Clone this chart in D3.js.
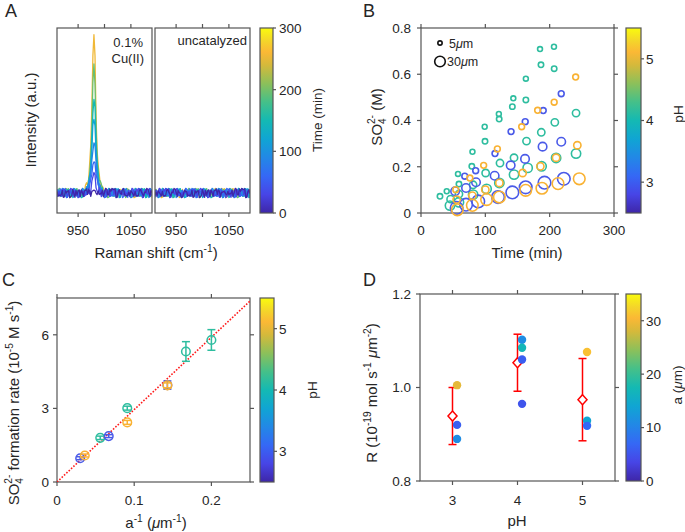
<!DOCTYPE html>
<html><head><meta charset="utf-8">
<script src="https://cdn.jsdelivr.net/npm/d3@7/dist/d3.min.js"></script>
<style>
body{margin:0;background:#fff;}
svg{display:block;}
text{font-family:"Liberation Sans",Arial,Helvetica,sans-serif;fill:#262626;}
</style></head><body>
<svg id="fig" width="685" height="532"></svg>
<script>
// ================= DATA =================
// Panel A : Raman spectra
const ramanGrid = d3.range(910, 1091, 2);
const ramanTicks = [950, 1000, 1050];
const ramanTickLabels = [950, 1050];
const spectraTimes = [0, 30, 60, 90, 120, 150, 195, 255];
const peakHeights = [0.01, 0.12, 0.22, 0.35, 0.50, 0.63, 0.81, 1.00];
const peakCenter = 980;
const peakOffsets = [-16,-14,-12,-10,-8,-6,-4,-2,0,2,4,6,8,10,12,14,16];
const peakShape   = [0.02,0.04,0.06,0.10,0.17,0.30,0.52,0.86,1.00,0.86,0.52,0.30,0.17,0.10,0.06,0.04,0.02];
const noise = [0.31,-0.52,0.84,-0.18,-0.93,0.42,0.07,-0.61,0.73,-0.27,0.55,-0.82,0.16,0.91,-0.44,-0.09,0.62,-0.71,0.28,-0.22,0.79,-0.48,-0.88,0.37,0.02,0.69,-0.63,0.21,-0.35,0.51,-0.77,0.95,-0.12,0.33,-0.68,0.58,-0.41,0.13,0.81,-0.24,-0.57,0.46,-0.86,0.49,0.19,-0.31,0.74,-0.53,0.08,-0.79,0.64,0.27,-0.39,0.89,-0.62,-0.06,0.43,-0.73,0.24,0.83,-0.29,0.52,-0.94,0.04,0.61,-0.17,0.36,-0.49,0.71,-0.84,0.39,0.11,-0.42,0.92,-0.58,0.23,-0.13,0.47,-0.66,0.34,0.78,-0.51,-0.21,0.57,-0.91,0.44,-0.33,0.68,0.14,-0.59,0.26,-0.75,0.53,-0.08,0.87,-0.46,0.18];
const timeTicks = [0, 100, 200, 300];

// Panel B : sulfate vs time (per droplet: pH, radius a)
const t_p4_a5  = [40,57.5,80,99,121,143.5,163,185,206.7];
const c_p4_a5  = [0.094,0.169,0.265,0.373,0.428,0.496,0.581,0.709,0.719];
const t_p4_a6  = [29.5,59,79,99.5,121.5,142,163,186.5,207];
const c_p4_a6  = [0.072,0.125,0.202,0.310,0.406,0.460,0.489,0.641,0.624];
const t_p4_a11 = [46,59,81,100.5,122.8,144.6,164,187,208,241];
const c_p4_a11 = [0.060,0.082,0.122,0.173,0.216,0.239,0.311,0.349,0.392,0.432];
const t_p4_a18 = [45,59,81,102,121.8,144.6,165.8,187.5,210,241];
const c_p4_a18 = [0.032,0.046,0.079,0.104,0.130,0.166,0.195,0.202,0.238,0.257];
const t_p3_a7  = [68,85,115,140,162,190,218];
const c_p3_a7  = [0.159,0.183,0.257,0.352,0.395,0.443,0.516];
const t_p3_a15 = [53,70,85.5,114.5,139.4,161.7,189,218];
const c_p3_a15 = [0.094,0.108,0.133,0.161,0.206,0.234,0.287,0.308];
const t_p3_a33 = [55.4,70,89,119.7,142,162.7,192,222];
const c_p3_a33 = [0.022,0.036,0.050,0.069,0.089,0.111,0.131,0.148];
const t_p5_a7  = [54,76,97.4,118.7,156.5,181.3,207,240.4];
const c_p5_a7  = [0.101,0.151,0.206,0.277,0.373,0.444,0.479,0.588];
const t_p5_a11 = [55.4,79.8,100,121.8,158,185.5,210,243];
const c_p5_a11 = [0.058,0.075,0.101,0.130,0.173,0.202,0.239,0.293];
const t_p5_a28 = [56.5,79.8,102,121.8,162.7,188,213,246];
const c_p5_a28 = [0.014,0.033,0.058,0.069,0.098,0.107,0.127,0.148];
const legendSizes = [5, 30];
const timeAxisTicks = [0, 100, 200, 300];
const concTicks = [0, 0.2, 0.4, 0.6, 0.8];
const pHTicks = [3, 4, 5];

// Panel C : formation rate vs 1/a
const cInvA = [0.030, 0.036, 0.056, 0.067, 0.091, 0.091, 0.143, 0.143, 0.167, 0.200];
const cRate = [0.97, 1.08, 1.80, 1.87, 3.01, 2.43, 3.95, 3.94, 5.32, 5.79];
const cErr  = [0.06, 0.06, 0.07, 0.06, 0.08, 0.08, 0.17, 0.10, 0.40, 0.42];
const cPH   = [3, 5, 4, 3, 4, 5, 3, 5, 4, 4];
const fitSlope = 29.5;
const invATicks = [0, 0.1, 0.2];
const rateTicks = [0, 3, 6];

// Panel D : R vs pH
const dPH   = [3, 4, 5];
const dMean = [0.939, 1.053, 0.974];
const dSD   = [0.061, 0.061, 0.088];
const dropPH = [3, 3, 3, 4, 4, 4, 4, 5, 5, 5];
const dropR  = [1.005, 0.920, 0.890, 1.102, 1.085, 1.060, 0.965, 1.076, 0.929, 0.918];
const dropA  = [29, 6, 11, 11, 17, 6, 5, 31, 14, 7];
const dXTicks = [3, 4, 5];
const dYTicks = [0.8, 1.0, 1.2];
const aTicks = [0, 10, 20, 30];

// ================= STYLE =================
const AX = "#555555";
const parulaPos = [0, 0.1, 0.2, 0.3, 0.4, 0.5, 0.6, 0.7, 0.8, 0.87, 0.93, 1];
const parulaCol = ["#3e26a8","#4745e6","#3568f5","#2288e6","#10a5d3","#14b9b3","#45c089","#8cc05a","#d5b93b","#fbb835","#f4d52a","#f9fb0e"];
const parula = d3.scaleLinear().domain(parulaPos).range(parulaCol).interpolate(d3.interpolateRgb).clamp(true);
const phColor = {3: "#4a5ae8", 4: "#2ebd9f", 5: "#f9b233"};
const svg = d3.select("#fig");
const defs = svg.append("defs");

function boxAxes(x, y, o) {
  const [x0, x1] = x.range(), [yb, yt] = y.range();
  const g = svg.append("g");
  g.append("rect").attr("x", x0).attr("y", yt).attr("width", x1 - x0).attr("height", yb - yt)
    .attr("fill", "none").attr("stroke", AX).attr("stroke-width", 1.2);
  (o.xTicks || []).forEach(t => {
    const px = x(t);
    g.append("line").attr("x1", px).attr("x2", px).attr("y1", yb).attr("y2", yb + 4).attr("stroke", AX).attr("stroke-width", 1.2);
    g.append("line").attr("x1", px).attr("x2", px).attr("y1", yt).attr("y2", yt - 4).attr("stroke", AX).attr("stroke-width", 1.2);
    if (!o.xLabelSet || o.xLabelSet.includes(t))
      g.append("text").attr("x", px).attr("y", o.xLabelY).attr("text-anchor", "middle").attr("font-size", 13.5)
        .text(o.xFmt ? o.xFmt(t) : t);
  });
  (o.yTicks || []).forEach(t => {
    const py = y(t);
    g.append("line").attr("x1", x0).attr("x2", x0 - 4).attr("y1", py).attr("y2", py).attr("stroke", AX).attr("stroke-width", 1.2);
    g.append("line").attr("x1", x1).attr("x2", x1 + 4).attr("y1", py).attr("y2", py).attr("stroke", AX).attr("stroke-width", 1.2);
    g.append("text").attr("x", x0 - o.yGap).attr("y", py).attr("dy", "0.36em").attr("text-anchor", "end").attr("font-size", 13.5)
      .text(o.yFmt ? o.yFmt(t) : t);
  });
}

let gradN = 0;
function colorbar(x0, y0, w, h, domain, ticks, labelX, label, labelPos) {
  const id = "grad" + (gradN++);
  const lg = defs.append("linearGradient").attr("id", id).attr("x1", 0).attr("y1", 1).attr("x2", 0).attr("y2", 0);
  parulaPos.forEach((p, i) => lg.append("stop").attr("offset", p).attr("stop-color", parulaCol[i]));
  svg.append("rect").attr("x", x0).attr("y", y0).attr("width", w).attr("height", h).attr("fill", `url(#${id})`)
    .attr("stroke", AX).attr("stroke-width", 1.2);
  const s = d3.scaleLinear().domain(domain).range([y0 + h, y0]);
  ticks.forEach(t => {
    svg.append("line").attr("x1", x0 + w).attr("x2", x0 + w + 3).attr("y1", s(t)).attr("y2", s(t)).attr("stroke", AX).attr("stroke-width", 1.2);
    svg.append("text").attr("x", labelX).attr("y", s(t)).attr("dy", "0.36em").attr("font-size", 13.5).text(t);
  });
  const tx = svg.append("text").attr("transform", `translate(${labelPos[0]},${labelPos[1]}) rotate(-90)`)
    .attr("text-anchor", "middle").attr("font-size", 13.5);
  rich(tx, label, 13.5);
}

function rich(sel, parts, size) {
  parts.forEach(p => {
    const ts = sel.append("tspan").text(p.t);
    if (p.s) ts.attr("font-size", size * 0.68);
    if (p.it) ts.attr("font-style", "italic");
    if (p.dx != null) ts.attr("dx", p.dx);
    if (p.dy != null) ts.attr("dy", p.dy);
  });
}
function label(x, y, rot, parts, size) {
  const t = svg.append("text").attr("text-anchor", "middle").attr("font-size", size)
    .attr("transform", `translate(${x},${y})` + (rot ? " rotate(-90)" : ""));
  rich(t, parts, size);
  return t;
}
function panelLetter(x, y, s) {
  svg.append("text").attr("x", x).attr("y", y).attr("font-size", 18).text(s);
}

// ================= PANEL A =================
const xA1 = d3.scaleLinear().domain([910, 1090]).range([57, 152]);
const xA2 = d3.scaleLinear().domain([910, 1090]).range([155, 250]);
const yA  = d3.scaleLinear().domain([-0.129, 1.065]).range([213, 28]);
const tColor = d3.scaleLinear().domain([0, 300]).range([0, 1]);

function spectrum(height, seed) {
  return ramanGrid.map((x, i) => {
    const j = peakOffsets.indexOf(x - peakCenter);
    const p = j >= 0 ? peakShape[j] : 0;
    const nz = noise[(i * 7 + seed * 19) % noise.length];
    return [x, height * p + 0.032 * nz];
  });
}
[[xA1, true], [xA2, false]].forEach(([xs, peaks], pi) => {
  const cid = "clipA" + pi;
  defs.append("clipPath").attr("id", cid).append("rect")
    .attr("x", xs.range()[0]).attr("y", 28).attr("width", xs.range()[1] - xs.range()[0]).attr("height", 185);
  const g = svg.append("g").attr("clip-path", `url(#${cid})`);
  const line = d3.line().x(d => xs(d[0])).y(d => yA(d[1]));
  for (let k = spectraTimes.length - 1; k >= 0; k--) {
    const data = spectrum(peaks ? peakHeights[k] : 0, k + (peaks ? 0 : 40));
    g.append("path").attr("d", line(data)).attr("fill", "none")
      .attr("stroke", parula(tColor(spectraTimes[k]))).attr("stroke-width", 1.3).attr("stroke-linejoin", "round");
  }
  boxAxes(xs, yA, {xTicks: ramanTicks, xLabelSet: ramanTickLabels, xLabelY: 235});
});
svg.append("text").attr("x", 143).attr("y", 47).attr("text-anchor", "end").attr("font-size", 13).text("0.1%");
svg.append("text").attr("x", 144).attr("y", 63).attr("text-anchor", "end").attr("font-size", 13).text("Cu(II)");
svg.append("text").attr("x", 247).attr("y", 45).attr("text-anchor", "end").attr("font-size", 13).text("uncatalyzed");
label(156, 258, false, [{t: "Raman shift (cm"}, {t: "-1", s: 1, dy: -6}, {t: ")", dy: 6}], 15);
label(36, 120, true, [{t: "Intensity (a.u.)"}], 15);
colorbar(260, 28, 13, 185, [0, 300], timeTicks, 279, [{t: "Time (min)"}], [322, 120]);
panelLetter(5, 17, "A");

// ================= PANEL B =================
const xB = d3.scaleLinear().domain([0, 300]).range([421, 614]);
const yB = d3.scaleLinear().domain([0, 0.8]).range([213, 28]);
const rB = d3.scaleSqrt().domain([0, 35]).range([0, 6.5]);
const bSeries = [
  {pH: 4, a: 18, t: t_p4_a18, c: c_p4_a18},
  {pH: 4, a: 11, t: t_p4_a11, c: c_p4_a11},
  {pH: 4, a: 6,  t: t_p4_a6,  c: c_p4_a6},
  {pH: 4, a: 5,  t: t_p4_a5,  c: c_p4_a5},
  {pH: 3, a: 33, t: t_p3_a33, c: c_p3_a33},
  {pH: 3, a: 15, t: t_p3_a15, c: c_p3_a15},
  {pH: 3, a: 7,  t: t_p3_a7,  c: c_p3_a7},
  {pH: 5, a: 28, t: t_p5_a28, c: c_p5_a28},
  {pH: 5, a: 11, t: t_p5_a11, c: c_p5_a11},
  {pH: 5, a: 7,  t: t_p5_a7,  c: c_p5_a7}
];
boxAxes(xB, yB, {xTicks: timeAxisTicks, xLabelY: 235, yTicks: concTicks, yGap: 10, yFmt: d => d === 0 ? "0" : d3.format(".1f")(d)});
bSeries.forEach(s => {
  s.t.forEach((tt, i) => {
    svg.append("circle").attr("cx", xB(tt)).attr("cy", yB(s.c[i])).attr("r", rB(s.a))
      .attr("fill", "none").attr("stroke", phColor[s.pH]).attr("stroke-width", 1.6);
  });
});
// size legend
[[legendSizes[0], 440, 43, 449, 47.5], [legendSizes[1], 440, 61.5, 447, 66]].forEach(([a, cx, cy, tx, ty]) => {
  svg.append("circle").attr("cx", cx).attr("cy", cy).attr("r", rB(a) * 0.88).attr("fill", "none").attr("stroke", "#111").attr("stroke-width", 1.6);
  const t = svg.append("text").attr("x", tx).attr("y", ty).attr("font-size", 12.5);
  rich(t, [{t: String(a)}, {t: "μ", it: 1}, {t: "m"}], 12.5);
});
label(527, 258, false, [{t: "Time (min)"}], 15);
label(382, 117, true, [{t: "SO"}, {t: "4", s: 1, dy: 4}, {t: "2-", s: 1, dx: -5.8, dy: -11}, {t: " (M)", dy: 7}], 15);
colorbar(626, 28, 15, 185, [2.5, 5.5], pHTicks, 646, [{t: "pH"}], [683, 114]);
panelLetter(363, 17, "B");

// ================= PANEL C =================
const xC = d3.scaleLinear().domain([0, 0.25]).range([57, 250]);
const yC = d3.scaleLinear().domain([0, 7.5]).range([482, 298]);
boxAxes(xC, yC, {xTicks: invATicks, xLabelY: 505, yTicks: rateTicks, yGap: 8});
defs.append("clipPath").attr("id", "clipC").append("rect").attr("x", 57).attr("y", 298).attr("width", 193).attr("height", 184);
svg.append("line").attr("clip-path", "url(#clipC)")
  .attr("x1", xC(0)).attr("y1", yC(0)).attr("x2", xC(0.25)).attr("y2", yC(fitSlope * 0.25))
  .attr("stroke", "#ff1a1a").attr("stroke-width", 1.6).attr("stroke-dasharray", "1.6,1.6");
cInvA.forEach((x, i) => {
  const col = phColor[cPH[i]], px = xC(x);
  const g = svg.append("g").attr("stroke", col).attr("stroke-width", 1.5).attr("fill", "none");
  g.append("line").attr("x1", px).attr("x2", px).attr("y1", yC(cRate[i] - cErr[i])).attr("y2", yC(cRate[i] + cErr[i]));
  [cRate[i] - cErr[i], cRate[i] + cErr[i]].forEach(v =>
    g.append("line").attr("x1", px - 4).attr("x2", px + 4).attr("y1", yC(v)).attr("y2", yC(v)));
  g.append("circle").attr("cx", px).attr("cy", yC(cRate[i])).attr("r", 4.3);
});
label(156, 528, false, [{t: "a"}, {t: "-1", s: 1, dy: -6}, {t: " (", dy: 6}, {t: "μ", it: 1}, {t: "m"}, {t: "-1", s: 1, dy: -6}, {t: ")", dy: 6}], 15);
label(19, 403, true, [{t: "SO"}, {t: "4", s: 1, dy: 4}, {t: "2-", s: 1, dx: -5.8, dy: -11}, {t: " formation rate (10", dy: 7}, {t: "-5", s: 1, dy: -6}, {t: " M s", dy: 6}, {t: "-1", s: 1, dy: -6}, {t: ")", dy: 6}], 15);
colorbar(260, 298, 14, 184, [2.5, 5.5], pHTicks, 279, [{t: "pH"}], [317, 390]);
panelLetter(2, 286, "C");

// ================= PANEL D =================
const xD = d3.scaleLinear().domain([2.5, 5.5]).range([420, 615]);
const yD = d3.scaleLinear().domain([0.8, 1.2]).range([481, 294]);
const aColor = d3.scaleLinear().domain([0, 35]).range([0, 1]);
boxAxes(xD, yD, {xTicks: dXTicks, xLabelY: 505, yTicks: dYTicks, yGap: 9, yFmt: d3.format(".1f")});
dPH.forEach((p, i) => {
  const px = xD(p), g = svg.append("g").attr("stroke", "#ff0000").attr("stroke-width", 1.5).attr("fill", "none");
  g.append("line").attr("x1", px).attr("x2", px).attr("y1", yD(dMean[i] - dSD[i])).attr("y2", yD(dMean[i] + dSD[i]));
  [dMean[i] - dSD[i], dMean[i] + dSD[i]].forEach(v =>
    g.append("line").attr("x1", px - 4).attr("x2", px + 4).attr("y1", yD(v)).attr("y2", yD(v)));
  const py = yD(dMean[i]);
  g.append("path").attr("d", `M${px},${py - 5}L${px + 4.5},${py}L${px},${py + 5}L${px - 4.5},${py}Z`).attr("fill", "#fff");
});
dropPH.forEach((p, i) => {
  svg.append("circle").attr("cx", xD(p + 0.07)).attr("cy", yD(dropR[i])).attr("r", 4.2)
    .attr("fill", parula(aColor(dropA[i])));
});
label(517, 526, false, [{t: "pH"}], 15);
label(377, 393, true, [{t: "R (10"}, {t: "-19", s: 1, dy: -6}, {t: " mol s", dy: 6}, {t: "-1", s: 1, dy: -6}, {t: " ", dy: 6}, {t: "μ", it: 1}, {t: "m"}, {t: "-2", s: 1, dy: -6}, {t: ")", dy: 6}], 15);
colorbar(626, 294, 15, 187, [0, 35], aTicks, 646, [{t: "a ("}, {t: "μ", it: 1}, {t: "m)"}], [682, 385]);
panelLetter(363, 286, "D");
</script></body></html>
